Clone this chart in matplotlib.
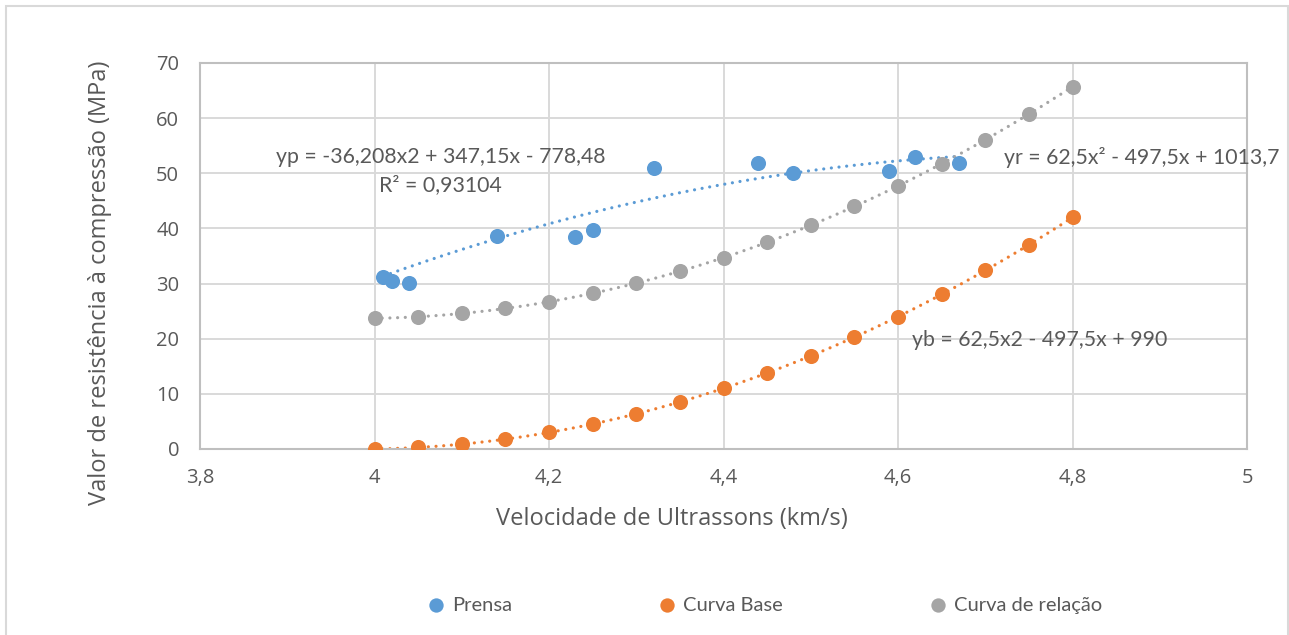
import matplotlib.pyplot as plt
import numpy as np
from matplotlib.patches import Rectangle

# Prensa measurements (km/s, MPa)
prensa_v = [4.01, 4.02, 4.04, 4.14, 4.23, 4.25, 4.32, 4.44, 4.48, 4.59, 4.62, 4.67]
prensa_r = [31.2, 30.4, 30.1, 38.6, 38.4, 39.8, 50.9, 51.9, 50.1, 50.4, 53.0, 51.9]

# Base curve and relation curve sampled every 0.05 km/s
curva_v = [4.0, 4.05, 4.1, 4.15, 4.2, 4.25, 4.3, 4.35, 4.4, 4.45, 4.5, 4.55,
           4.6, 4.65, 4.7, 4.75, 4.8]
base_r = [0.0, 0.28, 0.88, 1.78, 3.0, 4.53, 6.38, 8.53, 11.0, 13.78, 16.88,
          20.28, 24.0, 28.03, 32.38, 37.03, 42.0]
relacao_r = [23.7, 23.98, 24.58, 25.48, 26.7, 28.23, 30.08, 32.23, 34.7, 37.48,
             40.58, 43.98, 47.7, 51.73, 56.08, 60.73, 65.7]

# trendline coefficients (a, b, c) for a*x^2 + b*x + c
coef_p = [-36.208, 347.15, -778.48]
coef_b = [62.5, -497.5, 990]
coef_r = [62.5, -497.5, 1013.7]

blue = '#5B9BD5'
orange = '#ED7D31'
gray = '#A5A5A5'
txt = '#595959'

fig = plt.figure(figsize=(12.89, 6.35), dpi=100)
ax = fig.add_axes([200 / 1289, 1 - 449 / 635, 1047 / 1289, 386 / 635])

# chart frame
fig.patches.append(Rectangle((6 / 1289, -0.1), 1282 / 1289, 1.1 - 6 / 635,
                             transform=fig.transFigure, fill=False,
                             edgecolor='#d9d9d9', lw=1.5))

dot = (0, (0.01, 2.4))

def trend(coef, x0, x1, color):
    xs = np.linspace(x0, x1, 300)
    ax.plot(xs, np.polyval(coef, xs), color=color, lw=2.3, linestyle=dot,
            dash_capstyle='round', zorder=2)

trend(coef_p, min(prensa_v), max(prensa_v), blue)
trend(coef_b, curva_v[0], curva_v[-1], orange)
trend(coef_r, curva_v[0], curva_v[-1], gray)

ax.scatter(prensa_v, prensa_r, s=118, color=blue, label='Prensa', zorder=3, linewidths=0)
ax.scatter(curva_v, base_r, s=118, color=orange, label='Curva Base', zorder=3, linewidths=0)
ax.scatter(curva_v, relacao_r, s=118, color=gray, label='Curva de relação', zorder=3, linewidths=0)

ax.set_xlim(3.8, 5)
ax.set_ylim(0, 70)
ax.set_xticks([3.8, 4, 4.2, 4.4, 4.6, 4.8, 5])
ax.set_xticklabels(['3,8', '4', '4,2', '4,4', '4,6', '4,8', '5'])
ax.set_yticks(range(0, 71, 10))
ax.grid(True, color='#d9d9d9', lw=1.4)
ax.set_axisbelow(True)
for s in ax.spines.values():
    s.set_color('#bfbfbf')
    s.set_linewidth(1.5)
ax.tick_params(length=0, labelsize=14.5, labelcolor=txt)
ax.tick_params(axis='x', pad=14)
ax.tick_params(axis='y', pad=15)
for lab in ax.get_xticklabels() + ax.get_yticklabels():
    lab.set_family('Open Sans')

ax.set_xlabel('Velocidade de Ultrassons (km/s)', fontsize=17, color=txt,
              family='Open Sans')
ax.set_ylabel('Valor de resistência à compressão (MPa)', fontsize=17, color=txt,
              family='Open Sans')
ax.xaxis.set_label_coords(0.451, -0.181)
ax.yaxis.set_label_coords(-0.0955, 0.43)
ax.xaxis.label.set_va('center')
ax.yaxis.label.set_va('center')

eq_kw = dict(fontsize=15.3, color=txt, family='Lato', va='center')
ax.text(4.076, 52.9, 'yp = -36,208x2 + 347,15x - 778,48', ha='center', **eq_kw)
ax.text(4.076, 47.9, 'R² = 0,93104', ha='center', **eq_kw)
ax.text(4.721, 52.9, 'yr = 62,5x² - 497,5x + 1013,7', ha='left', **eq_kw)
ax.text(4.616, 19.8, 'yb = 62,5x2 - 497,5x + 990', ha='left', **eq_kw)

leg = fig.legend(loc='center', bbox_to_anchor=(759 / 1289, 1 - 605 / 635), ncol=3,
                 frameon=False, handletextpad=-0.2, columnspacing=6.7,
                 markerscale=0.95, prop={'family': 'Lato', 'size': 14.5})
for t in leg.get_texts():
    t.set_color(txt)

fig.savefig('out.png', dpi=100)
